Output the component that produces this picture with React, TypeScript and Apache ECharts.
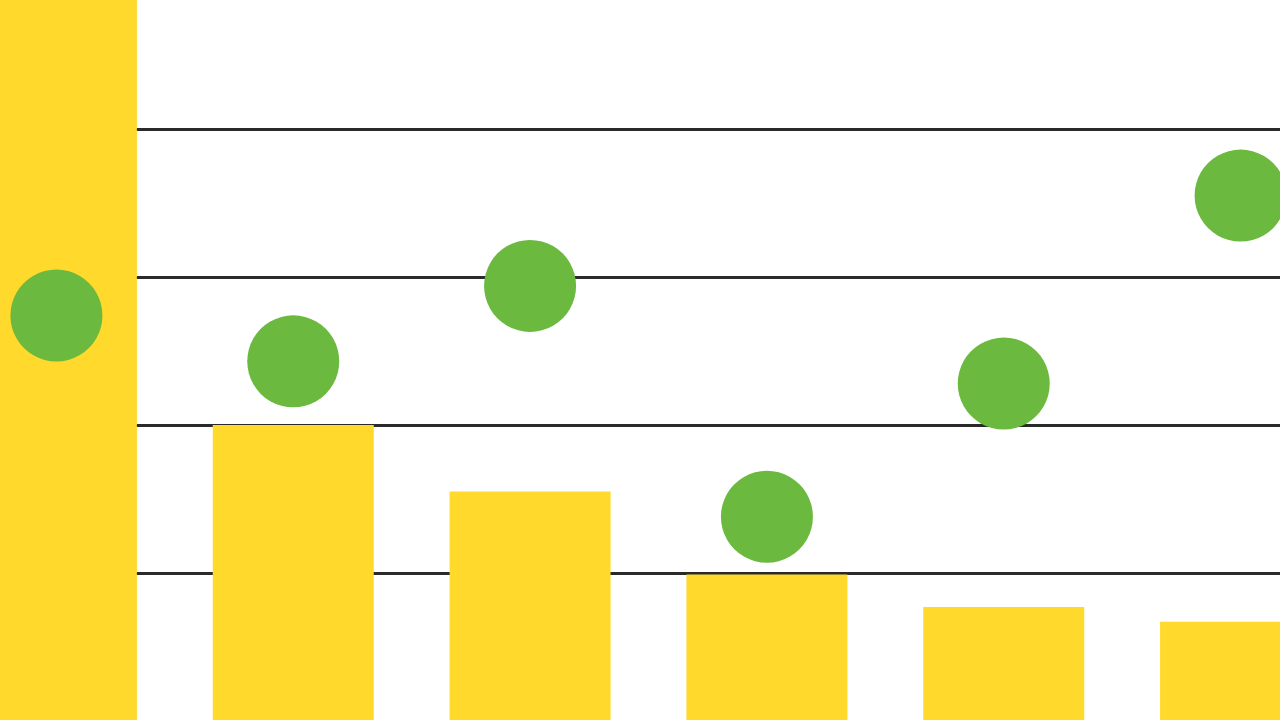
import { useEffect, useRef } from "react";
import * as echarts from "echarts";

const categories = ["A", "B", "C", "D", "E", "F"];
const barValues = [6, 2.0, 1.55, 0.99, 0.77, 0.67];
const dotValues = [2.74, 2.43, 2.94, 1.38, 2.28, 3.55];

export default function App() {
  const ref = useRef<HTMLDivElement>(null);

  useEffect(() => {
    if (!ref.current) return;
    const chart = echarts.init(ref.current, undefined, { renderer: "svg" });
    chart.setOption({
      animation: false,
      backgroundColor: "#ffffff",
      grid: { left: 0, right: 0, top: 0, bottom: 0 },
      xAxis: {
        type: "category",
        data: categories,
        axisLine: { show: false },
        axisTick: { show: false },
        axisLabel: { show: false },
      },
      yAxis: {
        type: "value",
        min: 0,
        max: 5,
        interval: 1,
        axisLabel: { show: false },
        axisLine: { show: false },
        axisTick: { show: false },
        splitLine: { lineStyle: { color: "#2a2a2a", width: 3 } },
      },
      series: [
        {
          type: "bar",
          data: barValues,
          barWidth: 161,
          itemStyle: { color: "#FFD92B" },
          z: 2,
        },
        {
          type: "scatter",
          data: dotValues,
          symbolSize: 92,
          itemStyle: { color: "#6BB93F", opacity: 1 },
          z: 3,
        },
      ],
    });
    return () => chart.dispose();
  }, []);

  // the reference is a crop of a wider chart, so the canvas runs past the window
  return (
    <div
      ref={ref}
      style={{ position: "fixed", left: -61.6, top: -19, width: 1420.5, height: 740 }}
    />
  );
}
